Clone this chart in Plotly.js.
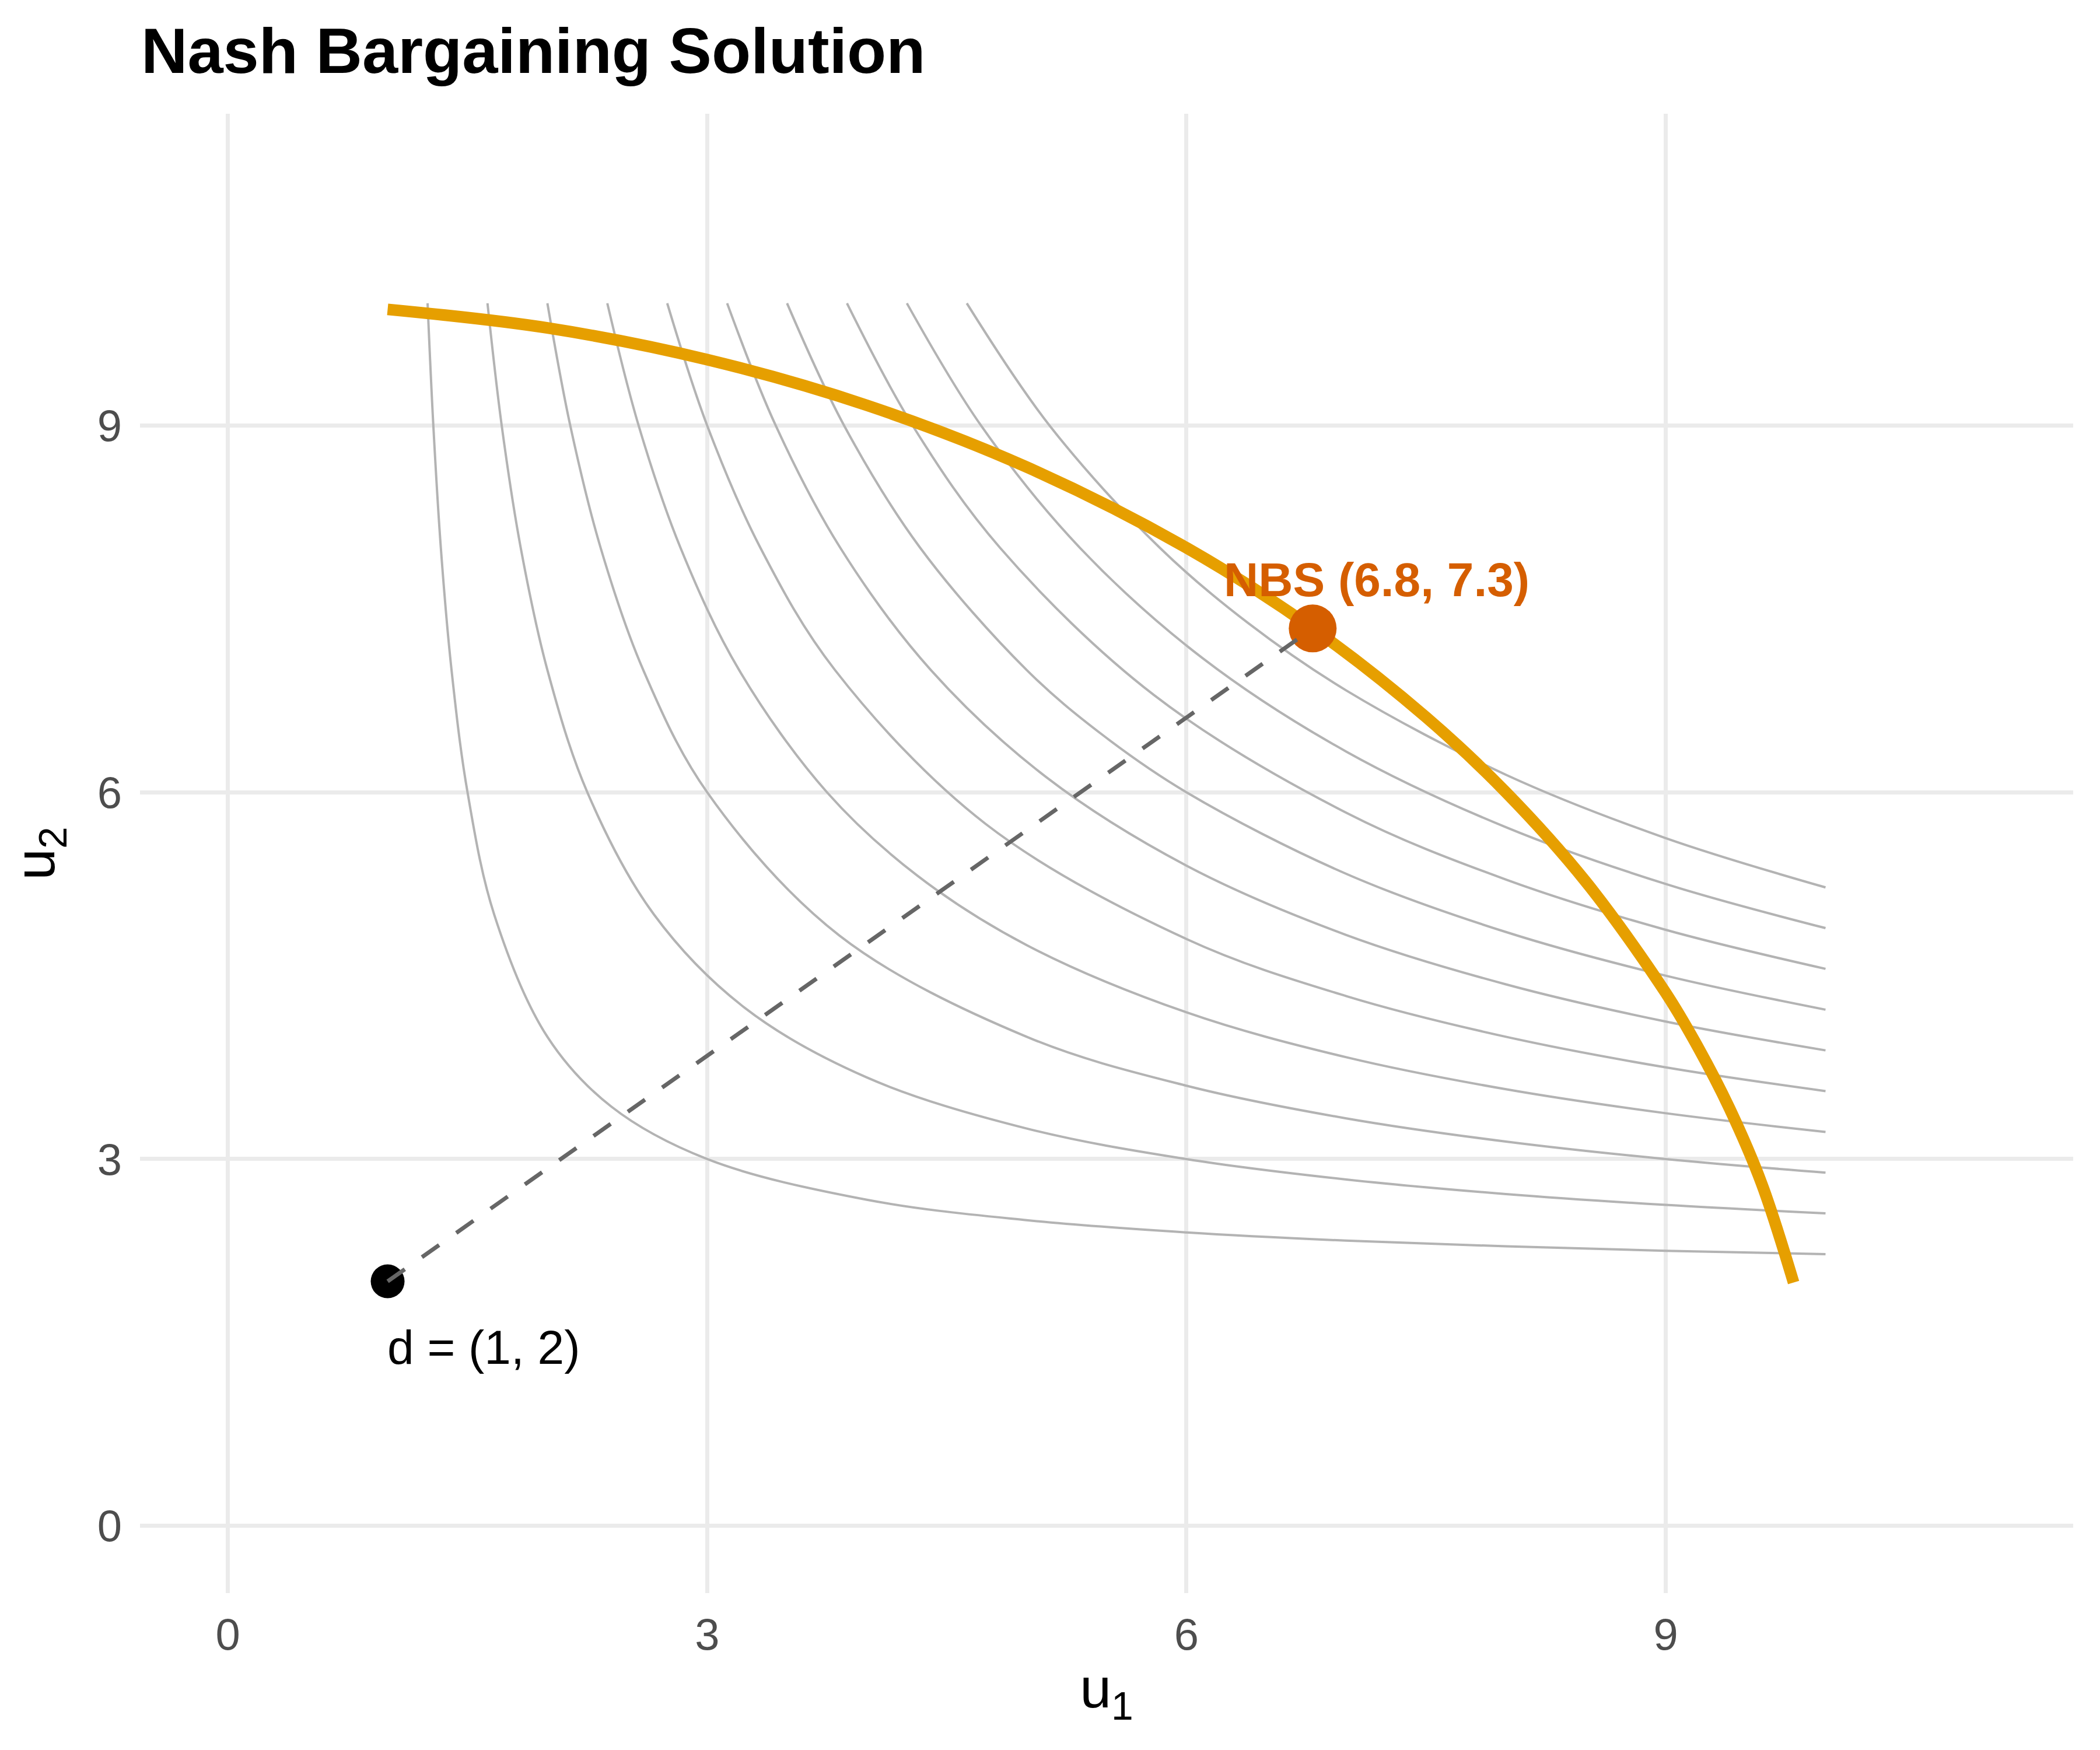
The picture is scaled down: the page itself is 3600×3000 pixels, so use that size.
<!DOCTYPE html>
<html>
<head>
<meta charset="utf-8">
<script src="https://cdn.plot.ly/plotly-3.0.1.min.js"></script>
<style>
  body { margin: 0; background: #ffffff; }
  #chart { width: 3600px; height: 3000px; }
</style>
</head>
<body>
<div id="chart"></div>
<script>
// Pareto frontier
var frontierU1 = [1, 2, 3, 4, 5, 6, 6.8, 7.5, 8, 8.5, 9, 9.2, 9.4, 9.6, 9.8];
var frontierU2 = [9.950, 9.798, 9.539, 9.165, 8.660, 8.000, 7.332, 6.614, 6.000, 5.268, 4.359, 3.919, 3.412, 2.800, 1.990];

// Nash product level curves (grey), one row per level
var contourLevels = [2, 5, 8, 11, 14, 17, 20, 23, 26, 29];
var contourU1 = [
  [1.25, 1.286, 1.333, 1.4, 1.5, 1.667, 2, 2.4, 3, 4, 5, 6, 7, 8, 9, 10],
  [1.625, 1.714, 1.833, 2, 2.25, 2.667, 3.236, 4, 5, 6, 7, 8, 9, 10],
  [2, 2.143, 2.333, 2.6, 3, 3.828, 5, 6, 7, 8, 9, 10],
  [2.375, 2.571, 2.833, 3.2, 3.75, 4.317, 5, 6, 7, 8, 9, 10],
  [2.75, 3, 3.333, 3.8, 4.742, 6, 7, 8, 9, 10],
  [3.125, 3.429, 3.833, 4.4, 5.123, 6, 7, 8, 9, 10],
  [3.5, 3.857, 4.333, 5, 5.472, 6, 7, 8, 9, 10],
  [3.875, 4.286, 4.833, 5.796, 7, 8, 9, 10],
  [4.25, 4.714, 5.333, 6.099, 7, 8, 9, 10],
  [4.625, 5.143, 5.833, 6.385, 7, 8, 9, 10]
];
var contourU2 = [
  [10, 9, 8, 7, 6, 5, 4, 3.429, 3, 2.667, 2.5, 2.4, 2.333, 2.286, 2.25, 2.222],
  [10, 9, 8, 7, 6, 5, 4.236, 3.667, 3.25, 3, 2.833, 2.714, 2.625, 2.556],
  [10, 9, 8, 7, 6, 4.828, 4, 3.6, 3.333, 3.143, 3, 2.889],
  [10, 9, 8, 7, 6, 5.317, 4.75, 4.2, 3.833, 3.571, 3.375, 3.222],
  [10, 9, 8, 7, 5.742, 4.8, 4.333, 4, 3.75, 3.556],
  [10, 9, 8, 7, 6.123, 5.4, 4.833, 4.429, 4.125, 3.889],
  [10, 9, 8, 7, 6.472, 6, 5.333, 4.857, 4.5, 4.222],
  [10, 9, 8, 6.796, 5.833, 5.286, 4.875, 4.556],
  [10, 9, 8, 7.099, 6.333, 5.714, 5.25, 4.889],
  [10, 9, 8, 7.385, 6.833, 6.143, 5.625, 5.222]
];

// disagreement point and bargaining solution
var disagreement = [1, 2];
var nbs = [6.79, 7.34];

var axisTicks = [0, 3, 6, 9];

var traces = [];

// grey level curves
contourLevels.forEach(function (lvl, i) {
  traces.push({
    x: contourU1[i],
    y: contourU2[i],
    mode: 'lines',
    type: 'scatter',
    name: 'level ' + lvl,
    line: {color: '#B3B3B3', width: 4, shape: 'spline'},
    hoverinfo: 'skip'
  });
});

// frontier
traces.push({
  x: frontierU1,
  y: frontierU2,
  mode: 'lines',
  type: 'scatter',
  line: {color: '#E69F00', width: 20, shape: 'spline'}
});

// the two points
traces.push({
  x: [disagreement[0]],
  y: [disagreement[1]],
  mode: 'markers',
  type: 'scatter',
  marker: {color: '#000000', size: 58, line: {width: 0}}
});
traces.push({
  x: [nbs[0]],
  y: [nbs[1]],
  mode: 'markers',
  type: 'scatter',
  marker: {color: '#D55E00', size: 82, line: {width: 0}}
});

// dashed segment d -> NBS
traces.push({
  x: [disagreement[0], nbs[0]],
  y: [disagreement[1], nbs[1]],
  mode: 'lines',
  type: 'scatter',
  line: {color: '#666666', width: 7, dash: '36px,36px'}
});

var tickFont = {family: 'Liberation Sans, Arial, sans-serif', size: 76, color: '#4D4D4D'};
var axTitleFont = {family: 'Liberation Sans, Arial, sans-serif', size: 97, color: '#000000'};

var layout = {
  width: 3600,
  height: 3000,
  paper_bgcolor: '#ffffff',
  plot_bgcolor: '#ffffff',
  showlegend: false,
  hovermode: false,
  margin: {l: 240, r: 46, t: 195, b: 269},
  title: {
    text: 'Nash Bargaining Solution',
    font: {family: 'Liberation Sans, Arial, sans-serif', size: 110, color: '#000000', weight: 'bold'},
    xref: 'container',
    x: 242 / 3600,
    xanchor: 'left',
    yref: 'container',
    y: 1 - 86 / 3000,
    yanchor: 'middle'
  },
  xaxis: {
    range: [-0.55, 11.55],
    tickvals: axisTicks,
    ticktext: axisTicks.map(String),
    tickfont: tickFont,
    ticks: '',
    ticklabelstandoff: 20,
    showgrid: true,
    gridcolor: '#EBEBEB',
    gridwidth: 7,
    zeroline: false,
    showline: false,
    title: {text: 'u<sub>1</sub>', font: axTitleFont, standoff: 16}
  },
  yaxis: {
    range: [-0.55, 11.55],
    tickvals: axisTicks,
    ticktext: axisTicks.map(String),
    tickfont: tickFont,
    ticks: '',
    ticklabelstandoff: 30,
    showgrid: true,
    gridcolor: '#EBEBEB',
    gridwidth: 7,
    zeroline: false,
    showline: false,
    title: {text: 'u<sub>2</sub>', font: axTitleFont, standoff: 40}
  },
  annotations: [
    {
      x: nbs[0] + 0.4,
      y: nbs[1] + 0.4,
      xref: 'x',
      yref: 'y',
      text: 'NBS (' + nbs[0].toFixed(1) + ', ' + nbs[1].toFixed(1) + ')',
      showarrow: false,
      xanchor: 'center',
      yanchor: 'middle',
      font: {family: 'Liberation Sans, Arial, sans-serif', size: 82, color: '#D55E00', weight: 'bold'}
    },
    {
      x: disagreement[0] - 0.01,
      y: disagreement[1] - 0.54,
      xref: 'x',
      yref: 'y',
      text: 'd = (' + disagreement[0] + ', ' + disagreement[1] + ')',
      showarrow: false,
      xanchor: 'left',
      yanchor: 'middle',
      font: {family: 'Liberation Sans, Arial, sans-serif', size: 82, color: '#000000'}
    }
  ]
};

Plotly.newPlot('chart', traces, layout, {staticPlot: true});
</script>
</body>
</html>
